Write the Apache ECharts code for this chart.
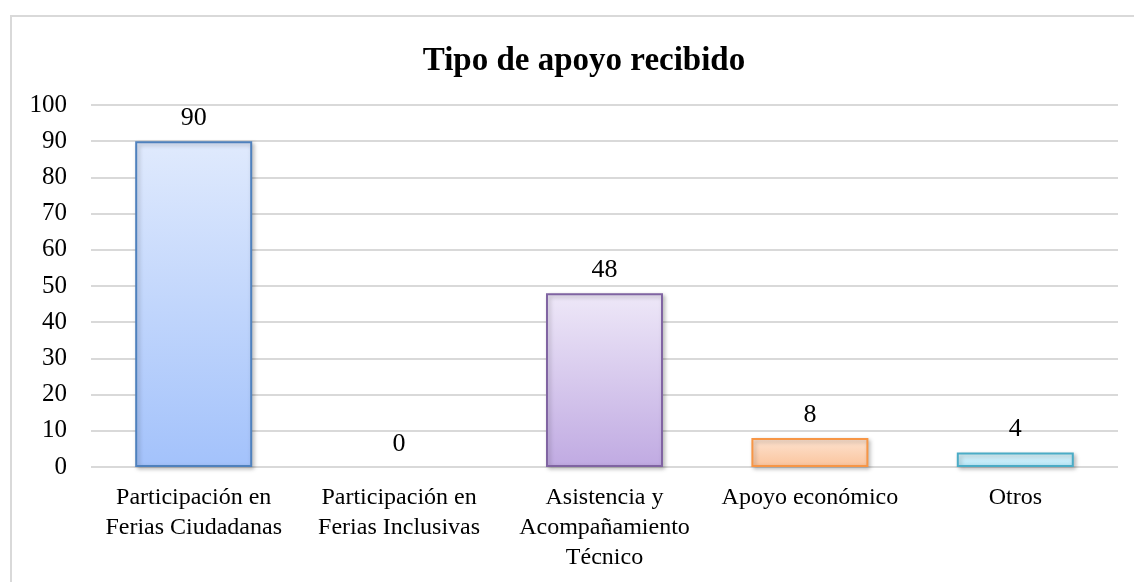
<!DOCTYPE html>
<html>
<head>
<meta charset="utf-8">
<script src="https://cdn.jsdelivr.net/npm/echarts@6/dist/echarts.min.js"></script>
<style>
  html, body { margin: 0; padding: 0; background: #fff; }
  #chart { width: 1134px; height: 582px; }
</style>
</head>
<body>
<div id="chart"></div>
<script>
const categories = [
  'Participación en\nFerias Ciudadanas',
  'Participación en\nFerias Inclusivas',
  'Asistencia y\nAcompañamiento\nTécnico',
  'Apoyo económico',
  'Otros'
]
const values = [90, 0, 48, 8, 4]
const yTicks = { min: 0, max: 100, interval: 10 }

// top colour, bottom colour, border
const barColors = [
  ['#e0eafd', '#a3c2fb', '#4f81bd'],
  ['#e0eafd', '#a3c2fb', '#4f81bd'],
  ['#eee8f8', '#c0aae2', '#8064a2'],
  ['#fde3d1', '#fbc49c', '#f79646'],
  ['#def5fc', '#b5e6f7', '#4bacc6']
]

const chart = echarts.init(document.getElementById('chart'))
const font = '"Liberation Serif", "Times New Roman", serif'

chart.setOption({
  animation: false,
  textStyle: { fontFamily: font },
  title: {
    text: 'Tipo de apoyo recibido',
    left: 579,
    textAlign: 'center',
    top: 40,
    textStyle: { fontFamily: font, fontSize: 33, fontWeight: 'bold', color: '#000' }
  },
  graphic: [
    {
      type: 'rect',
      shape: { x: 11, y: 16, width: 1200, height: 700 },
      style: { fill: 'none', stroke: '#d9d9d9', lineWidth: 2 },
      silent: true,
      z: -1
    }
  ],
  grid: { left: 91, right: 16, top: 105, bottom: 115 },
  xAxis: {
    type: 'category',
    data: categories,
    axisLine: { show: false },
    axisTick: { show: false },
    axisLabel: {
      color: '#000',
      fontFamily: font,
      fontSize: 24,
      lineHeight: 30,
      margin: 16,
      interval: 0
    }
  },
  yAxis: {
    type: 'value',
    min: yTicks.min,
    max: yTicks.max,
    interval: yTicks.interval,
    axisLine: { show: false },
    axisTick: { show: false },
    axisLabel: { color: '#000', fontFamily: font, fontSize: 25, margin: 24 },
    splitLine: { lineStyle: { color: '#d9d9d9', width: 2 } }
  },
  series: [
    {
      type: 'bar',
      barWidth: 117,
      data: values.map((v, i) => ({
        value: v,
        itemStyle: {
          color: new echarts.graphic.LinearGradient(0, 0, 0, 1, [
            { offset: 0, color: barColors[i][0] },
            { offset: 1, color: barColors[i][1] }
          ]),
          borderColor: barColors[i][2],
          borderWidth: v > 0 ? 2 : 0,
          shadowColor: 'rgba(0,0,0,0.25)',
          shadowBlur: 4,
          shadowOffsetX: 2,
          shadowOffsetY: 2
        }
      })),
      label: {
        show: true,
        position: 'top',
        distance: 10,
        color: '#000',
        fontFamily: font,
        fontSize: 26
      }
    }
  ]
})
</script>
</body>
</html>
